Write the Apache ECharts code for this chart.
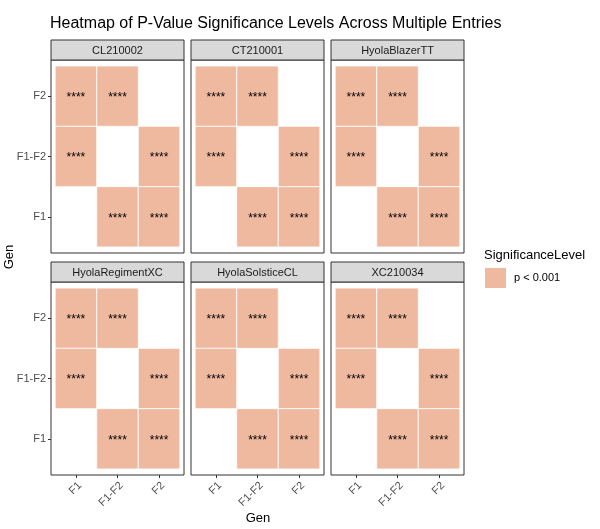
<!DOCTYPE html>
<html>
<head>
<meta charset="utf-8">
<script src="https://cdn.jsdelivr.net/npm/echarts@6/dist/echarts.min.js"></script>
<style>
  html, body { margin: 0; padding: 0; background: #fff; }
  #chart { width: 600px; height: 529px; }
</style>
</head>
<body>
<div id="chart"></div>
<script>
// facet entries, in panel order
const entries = ["CL210002", "CT210001", "HyolaBlazerTT", "HyolaRegimentXC", "HyolaSolsticeCL", "XC210034"];
// Gen categories (x and y)
const genLevels = ["F1", "F1-F2", "F2"];
// significant pairs, same for every entry
const pairX = ["F1", "F1-F2", "F1", "F2", "F1-F2", "F2"];
const pairY = ["F2", "F2", "F1-F2", "F1-F2", "F1", "F1"];
const pairLabel = ["****", "****", "****", "****", "****", "****"];
const levelName = "p < 0.001";

const FONT = "Liberation Sans, Arial, sans-serif";
const TILE = "#EFB99F";

// panel layout (ggplot style: 0.6 unit expansion on discrete scale)
const colX = [51, 191, 331];
const rowTop = [40, 262];
const panelW = 133, panelH = 193, stripH = 20;
const padX = panelW * 0.1 / 3.2, padY = panelH * 0.1 / 3.2;

const chart = echarts.init(document.getElementById("chart"));

const grids = [], xAxes = [], yAxes = [], series = [], graphics = [];

entries.forEach((name, i) => {
  const c = i % 3, r = Math.floor(i / 3);
  const px = colX[c], pTop = rowTop[r] + stripH;
  grids.push({
    left: px + padX, top: pTop + padY,
    width: panelW - 2 * padX, height: panelH - 2 * padY,
  });
  const bottomRow = r === 1, leftCol = c === 0;
  xAxes.push({
    type: "category", gridIndex: i, data: genLevels,
    offset: padY,
    axisLine: { show: false },
    axisTick: { show: bottomRow, alignWithLabel: true, length: 3, lineStyle: { color: "#333" } },
    axisLabel: { show: bottomRow, rotate: 45, margin: 5, verticalAlign: "top",
      color: "#4D4D4D", fontSize: 11, fontFamily: FONT },
    splitLine: { show: false },
  });
  yAxes.push({
    type: "category", gridIndex: i, data: genLevels,
    offset: padX,
    axisLine: { show: false },
    axisTick: { show: leftCol, alignWithLabel: true, length: 3, lineStyle: { color: "#333" } },
    axisLabel: { show: leftCol, margin: 5, color: "#4D4D4D", fontSize: 11, fontFamily: FONT },
    splitLine: { show: false },
  });
  series.push({
    name: levelName,
    type: "custom",
    xAxisIndex: i, yAxisIndex: i,
    itemStyle: { color: TILE },
    data: pairX.map((x, k) => [x, pairY[k], pairLabel[k]]),
    renderItem: (params, api) => {
      const pt = api.coord([api.value(0), api.value(1)]);
      const sz = api.size([1, 1]);
      return {
        type: "group",
        children: [
          {
            type: "rect",
            shape: { x: pt[0] - sz[0] / 2, y: pt[1] - sz[1] / 2, width: sz[0], height: sz[1] },
            style: { fill: TILE, stroke: "#fff", lineWidth: 0.8 },
          },
          {
            type: "text",
            x: pt[0], y: pt[1] + 1.5,
            style: {
              text: pairLabel[params.dataIndex], fill: "#000",
              font: "12px " + FONT, align: "center", verticalAlign: "middle",
            },
          },
        ],
      };
    },
  });
  // panel border
  graphics.push({
    type: "rect", z: 100,
    shape: { x: px, y: pTop, width: panelW, height: panelH },
    style: { fill: null, stroke: "#333", lineWidth: 1 },
  });
  // strip
  graphics.push({
    type: "rect", z: 100,
    shape: { x: px, y: rowTop[r], width: panelW, height: stripH },
    style: { fill: "#D9D9D9", stroke: "#333", lineWidth: 1 },
  });
  graphics.push({
    type: "text", z: 101,
    x: px + panelW / 2, y: rowTop[r] + stripH / 2 + 1,
    style: { text: name, fill: "#1A1A1A", font: "11px " + FONT, align: "center", verticalAlign: "middle" },
  });
});

graphics.push(
  { type: "text", x: 50, y: 24,
    style: { text: "Heatmap of P-Value Significance Levels Across Multiple Entries", fill: "#000", font: "16px " + FONT, verticalAlign: "middle" } },
  { type: "text", x: 258, y: 518,
    style: { text: "Gen", fill: "#000", font: "13px " + FONT, align: "center", verticalAlign: "middle" } },
  { type: "text", x: 9, y: 257, rotation: Math.PI / 2,
    style: { text: "Gen", fill: "#000", font: "13px " + FONT, align: "center", verticalAlign: "middle" } },
  { type: "text", x: 484, y: 255,
    style: { text: "SignificanceLevel", fill: "#000", font: "13px " + FONT, verticalAlign: "middle" } }
);

chart.setOption({
  animation: false,
  grid: grids,
  xAxis: xAxes,
  yAxis: yAxes,
  series: series,
  legend: {
    data: [levelName],
    orient: "vertical",
    left: 485, top: 268, padding: 0,
    icon: "rect", itemWidth: 21, itemHeight: 20, itemGap: 8,
    textStyle: { color: "#000", fontSize: 11, fontFamily: FONT, padding: [0, 0, 0, 3] },
    selectedMode: false,
  },
  graphic: graphics,
});
</script>
</body>
</html>
